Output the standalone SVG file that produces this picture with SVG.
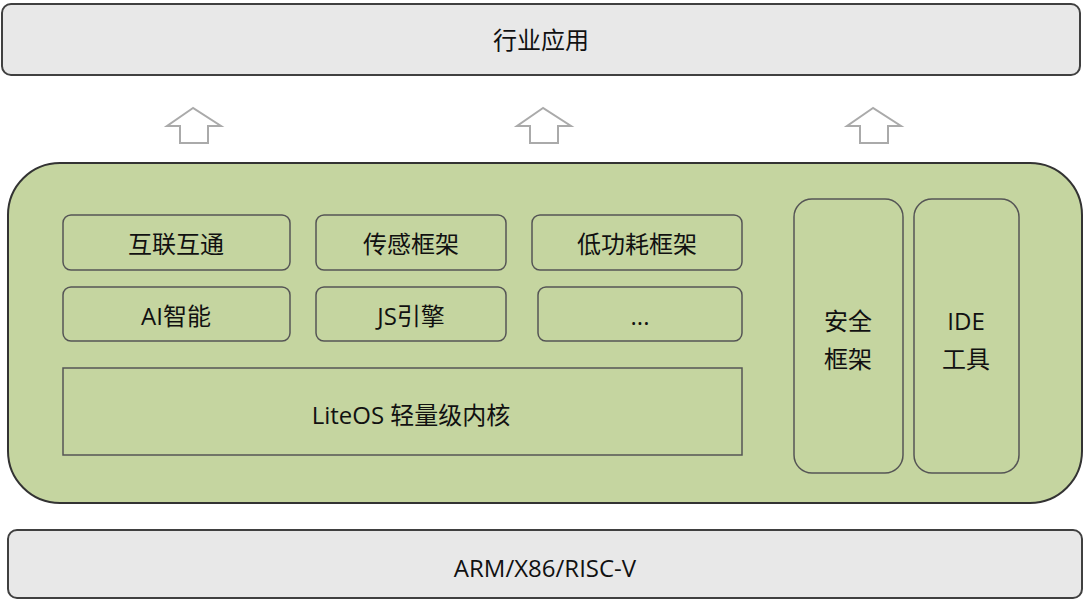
<svg xmlns="http://www.w3.org/2000/svg" width="1087" height="602" viewBox="0 0 1087 602">
<style>
.g{fill:#e8e8e8;stroke:#404040;stroke-width:2}
.b{fill:#c5d5a0;stroke:#555;stroke-width:1.5}
.a{fill:#fff;stroke:#aaa;stroke-width:2}
text{font-family:"Open Sans","Noto Sans CJK SC",sans-serif;font-size:24px;fill:#111;text-anchor:middle;dominant-baseline:central}
</style>
<g id="top"><rect class="g" x="2" y="4" width="1078" height="71" rx="9"/><text x="541" y="39">行业应用</text></g>
<g id="connectors">
<path class="a" d="M193 108 L167 126 L180 126 L180 143 L208 143 L208 126 L221 126 Z"/>
<path class="a" d="M543 108 L517 126 L530 126 L530 143 L558 143 L558 126 L571 126 Z"/>
<path class="a" d="M873 108 L847 126 L860 126 L860 143 L888 143 L888 126 L901 126 Z"/>
</g>
<g id="main"><rect x="8" y="163" width="1074" height="340" rx="52" fill="#c5d5a0" stroke="#333" stroke-width="2"/></g>
<g id="n1"><rect class="b" x="63" y="215" width="227" height="55" rx="8"/><text x="176" y="243">互联互通</text></g>
<g id="n2"><rect class="b" x="316" y="215" width="190" height="55" rx="8"/><text x="411" y="243">传感框架</text></g>
<g id="n3"><rect class="b" x="532" y="215" width="210" height="55" rx="8"/><text x="637" y="243">低功耗框架</text></g>
<g id="n4"><rect class="b" x="63" y="287" width="227" height="54" rx="8"/><text x="176" y="315">AI智能</text></g>
<g id="n5"><rect class="b" x="316" y="287" width="190" height="54" rx="8"/><text x="411" y="315">JS引擎</text></g>
<g id="n6"><rect class="b" x="538" y="287" width="204" height="54" rx="8"/><text x="640" y="315">...</text></g>
<g id="n7"><rect class="b" x="63" y="368" width="679" height="87"/><text x="411" y="414">LiteOS 轻量级内核</text></g>
<g id="n8"><rect class="b" x="794" y="199" width="109" height="274" rx="18"/><text x="848" y="320">安全</text><text x="848" y="358">框架</text></g>
<g id="n9"><rect class="b" x="914" y="199" width="105" height="274" rx="18"/><text x="966" y="320">IDE</text><text x="966" y="358">工具</text></g>
<g id="bottom"><rect class="g" x="8" y="530" width="1074" height="68" rx="9"/><text x="545" y="567">ARM/X86/RISC-V</text></g>
</svg>
